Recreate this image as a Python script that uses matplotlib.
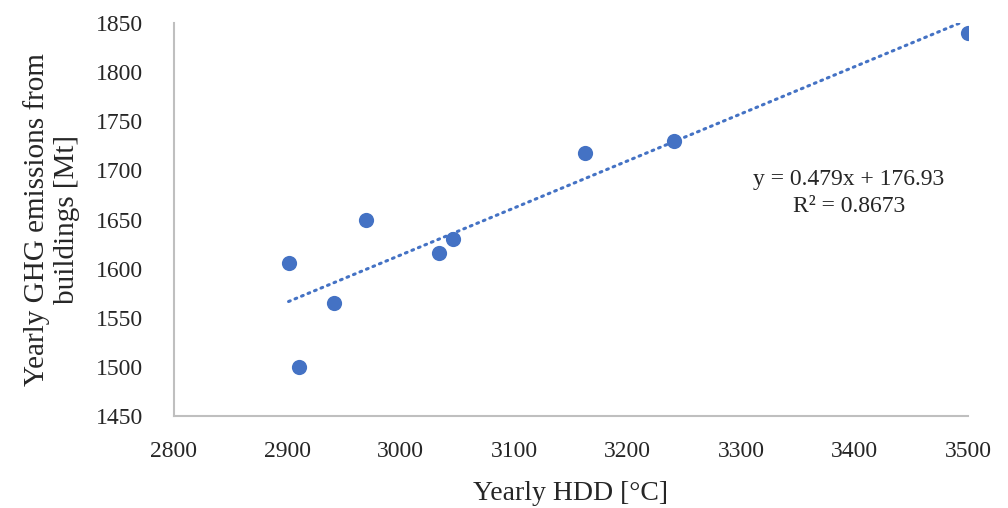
import numpy as np
import matplotlib
matplotlib.use('Agg')
import matplotlib.pyplot as plt

# yearly heating degree days and building emissions
hdd = [2901, 2910, 2941, 2969, 3034, 3046, 3162, 3241, 3500]
emissions = [1606, 1500, 1565, 1650, 1616, 1630, 1718, 1730, 1840]

# linear trend as stated on the chart
slope = 0.479
intercept = 176.93
r2 = 0.8673

xticks = np.arange(2800, 3501, 100)
yticks = np.arange(1450, 1851, 50)

plt.rcParams['font.family'] = ['Liberation Serif', 'DejaVu Serif']

fig = plt.figure(figsize=(10.08, 5.08), dpi=100)
ax = fig.add_axes([0.1726, 0.1811, 0.7877, 0.7736])

blue = '#4472C4'
ax.scatter(hdd, emissions, s=120, color=blue, zorder=3, linewidths=0)

xs = np.array([min(hdd), max(hdd)])
ax.plot(xs, slope * xs + intercept, color=blue, lw=2.2,
        linestyle=(0, (0.6, 1.7)), dash_capstyle='round', zorder=2)

ax.set_xlim(2800, 3500)
ax.set_ylim(1450, 1850)
ax.set_xticks(xticks)
ax.set_yticks(yticks)
ax.tick_params(length=0, labelsize=17, colors='#262626')
ax.tick_params(axis='x', pad=18)
ax.tick_params(axis='y', pad=22)

for s in ['top', 'right']:
    ax.spines[s].set_visible(False)
for s in ['left', 'bottom']:
    ax.spines[s].set_color('#BFBFBF')
    ax.spines[s].set_linewidth(1.5)

ax.set_xlabel('Yearly HDD [°C]', fontsize=20, color='#262626')
ax.xaxis.set_label_coords(0.5, -0.165)
ax.set_ylabel('Yearly GHG emissions from\nbuildings [Mt]', fontsize=21,
              color='#262626', linespacing=1.2)
ax.yaxis.set_label_coords(-0.118, 0.5)

ax.text(3395, 1677, 'y = 0.479x + 176.93\nR² = %.4f' % r2, ha='center',
        va='center', fontsize=17, color='#262626', linespacing=1.35)

fig.savefig('out.png', dpi=100)
